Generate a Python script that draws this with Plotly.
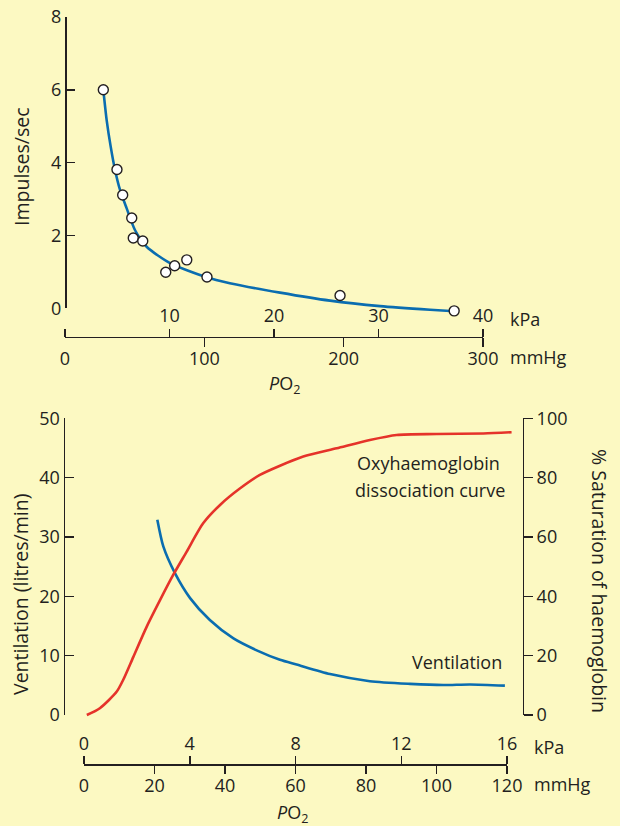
import plotly.graph_objects as go

# ---------------- data ----------------
# Top panel: carotid-body impulses vs PO2 (mmHg)
imp_po2_mmhg = [27.5, 37.3, 41.4, 47.9, 49.0, 55.8, 72.3, 78.7, 87.4, 101.9, 197.4, 279.3]
imp_rate = [6.0, 3.81, 3.11, 2.48, 1.93, 1.85, 0.99, 1.17, 1.33, 0.86, 0.35, -0.07]
fit_po2_mmhg = [27.5, 29.9, 32.8, 35.9, 39.5, 44.2, 50.2, 58.6, 75.4, 101.7,
                118.3, 154.3, 190.2, 226.1, 262.0, 279.3]
fit_rate = [6.0, 5.17, 4.44, 3.80, 3.25, 2.75, 2.15, 1.69, 1.24, 0.85,
            0.69, 0.43, 0.21, 0.06, -0.04, -0.08]

# Bottom panel: oxyhaemoglobin dissociation curve and ventilation vs PO2 (mmHg)
sat_po2_mmhg = [0.8, 4.5, 9.3, 11.1, 14.0, 17.8, 21.6, 25.3, 29.1, 33.8, 38.6, 44.3,
                49.9, 55.6, 62.2, 71.7, 81.1, 88.7, 100.1, 113.3, 121.3]
sat_pct = [0.0, 2.3, 7.9, 11.8, 19.6, 29.8, 38.8, 47.2, 55.0, 64.6, 70.8, 76.4,
           80.9, 84.0, 87.1, 89.9, 92.7, 94.4, 94.7, 94.9, 95.3]
vent_po2_mmhg = [20.8, 22.5, 25.8, 30.1, 35.7, 42.4, 49.0, 55.6, 60.3, 69.8, 81.1,
                 92.5, 101.9, 109.5, 119.4]
vent_lpm = [32.9, 28.4, 23.9, 19.7, 16.0, 12.9, 10.9, 9.3, 8.5, 6.9, 5.7,
            5.25, 5.05, 5.15, 4.95]

# Tick values / labels
top_kpa_ticks = [0, 10, 20, 30, 40]
top_mmhg_ticks = [0, 100, 200, 300]
imp_ticks = [0, 2, 4, 6, 8]
bot_kpa_ticks = [0, 4, 8, 12, 16]
bot_mmhg_ticks = [0, 20, 40, 60, 80, 100, 120]
vent_ticks = [0, 10, 20, 30, 40, 50]
sat_ticks = [0, 20, 40, 60, 80, 100]

MMHG_PER_KPA = 7.50062

# ---------------- styling / layout helpers ----------------
W, H = 620, 826
BG = "#FCF9C2"
INK = "#231F20"
BLUE = "#0A6DB0"
RED = "#E5332A"
FONT = "Open Sans"
TICKFONT = dict(family=FONT, size=18, color=INK)


def px(x):
    return x / W


def py(y):
    return 1 - y / H


# pixel geometry of the panels
T_X0, T_X1 = 65, 483          # top x-axis line (0..300 mmHg)
T_Y0, T_Y8 = 308.3, 17        # top y: 0 and 8
T_XLINE = 336.5
B_X0, B_X1 = 84, 507          # bottom x-axis (0..120 mmHg)
B_Y0, B_YT = 715, 418.3       # bottom y: 0 and top (50 / 100)
B_XLINE = 764
B_YL, B_YR = 63.5, 522.5      # bottom y-axis line positions

top_ppu = (T_Y0 - T_Y8) / 8
bot_ppu = (B_Y0 - B_YT) / 50
bot_ppx = (B_X1 - B_X0) / 120

fig = go.Figure()

# data traces
fig.add_trace(go.Scatter(x=fit_po2_mmhg, y=fit_rate, mode="lines",
                         line=dict(color=BLUE, width=2.6, shape="spline", smoothing=0.7),
                         xaxis="x", yaxis="y3", showlegend=False, hoverinfo="skip"))
fig.add_trace(go.Scatter(x=imp_po2_mmhg, y=imp_rate, mode="markers",
                         marker=dict(size=10, color="white", line=dict(color=INK, width=1.4)),
                         cliponaxis=False,
                         xaxis="x", yaxis="y3", showlegend=False, hoverinfo="skip"))
fig.add_trace(go.Scatter(x=sat_po2_mmhg, y=sat_pct, mode="lines",
                         line=dict(color=RED, width=2.6, shape="spline", smoothing=0.7),
                         xaxis="x5", yaxis="y7", showlegend=False, hoverinfo="skip"))
fig.add_trace(go.Scatter(x=vent_po2_mmhg, y=vent_lpm, mode="lines",
                         line=dict(color=BLUE, width=2.6, shape="spline", smoothing=0.7),
                         xaxis="x5", yaxis="y6", showlegend=False, hoverinfo="skip"))

# empty traces that register the purely visual axes as subplots
for xa, ya in [("x", "y"), ("x2", "y"), ("x3", "y4"), ("x4", "y4"), ("x3", "y5")]:
    fig.add_trace(go.Scatter(x=[], y=[], xaxis=xa, yaxis=ya, showlegend=False, hoverinfo="skip"))

common = dict(showgrid=False, zeroline=False, tickfont=TICKFONT, tickcolor=INK,
              linecolor=INK, linewidth=1.5, tickwidth=1.5, fixedrange=True)
hidden = dict(visible=False, showgrid=False, zeroline=False, fixedrange=True)

top_xdom = [px(T_X0), px(T_X1)]
bot_xdom = [px(B_X0), px(B_X1)]

fig.update_layout(
    width=W, height=H,
    margin=dict(l=0, r=0, t=0, b=0, pad=0, autoexpand=False),
    paper_bgcolor=BG, plot_bgcolor="rgba(0,0,0,0)",
    font=dict(family=FONT, color=INK, size=18),
    # ---- top panel visible axes ----
    xaxis=dict(domain=top_xdom, range=[0, 300], anchor="free", position=py(T_XLINE),
               side="bottom", showline=True, tickmode="array", tickvals=top_mmhg_ticks,
               ticks="", ticklabelstandoff=5,
               minor=dict(tickmode="array", tickvals=top_mmhg_ticks[1:], ticks="outside",
                          ticklen=9, tickwidth=1.5, tickcolor=INK),
               **common),
    xaxis2=dict(overlaying="x", range=[0, 300 / MMHG_PER_KPA], anchor="free",
                position=py(T_XLINE), side="top", showline=False, tickmode="array",
                tickvals=top_kpa_ticks[1:], ticks="outside", ticklen=8, ticklabelstandoff=-1,
                minor=dict(tickmode="array", tickvals=top_kpa_ticks[:1], ticks="outside",
                           ticklen=8, tickwidth=1.5, tickcolor=INK),
                **common),
    yaxis=dict(domain=[py(T_Y0), py(T_Y8)], range=[0, 8], anchor="free", position=px(T_X0),
               showline=True, tickmode="array", tickvals=imp_ticks, ticks="inside", ticklen=8,
               **common),
    # ---- top panel data axis (slightly taller so the curve is not clipped) ----
    yaxis3=dict(domain=[py(T_Y0 + 14), py(T_Y8)], range=[-14 / top_ppu, 8], anchor="x", **hidden),
    # ---- bottom panel visible axes ----
    xaxis3=dict(domain=bot_xdom, range=[0, 120], anchor="free", position=py(B_XLINE),
                side="bottom", showline=True, tickmode="array", tickvals=bot_mmhg_ticks,
                ticks="", ticklabelstandoff=5,
                minor=dict(tickmode="array", tickvals=bot_mmhg_ticks[1:], ticks="outside",
                           ticklen=8, tickwidth=1.5, tickcolor=INK),
                **common),
    xaxis4=dict(overlaying="x3", range=[0, 120 / MMHG_PER_KPA], anchor="free",
                position=py(B_XLINE), side="top", showline=False, tickmode="array",
                tickvals=bot_kpa_ticks, ticks="outside", ticklen=8, ticklabelstandoff=-1,
                **common),
    yaxis4=dict(domain=[py(B_Y0), py(B_YT)], range=[0, 50], anchor="free", position=px(B_YL),
                showline=True, tickmode="array", tickvals=vent_ticks, ticks="inside", ticklen=9,
                **common),
    yaxis5=dict(overlaying="y4", range=[0, 100], anchor="free", position=px(B_YR), side="right",
                showline=True, tickmode="array", tickvals=sat_ticks, ticks="outside", ticklen=9,
                **common),
    # ---- bottom panel data axes (slightly larger so curves are not clipped) ----
    xaxis5=dict(domain=[px(B_X0), px(B_X0 + 127 * bot_ppx)], range=[0, 127], anchor="y6", **hidden),
    yaxis6=dict(domain=[py(B_Y0 + 8), py(B_YT)], range=[-8 / bot_ppu, 50], anchor="x5", **hidden),
    yaxis7=dict(overlaying="y6", range=[-8 / bot_ppu * 2, 100], anchor="x5", **hidden),
)

ann = [
    dict(text="Impulses/sec", x=px(21), y=py(167), textangle=-90, font=dict(size=19.5)),
    dict(text="kPa", x=px(508), y=py(319), xanchor="left"),
    dict(text="mmHg", x=px(508), y=py(357), xanchor="left"),
    dict(text="<i>P</i>O<sub>2</sub>", x=px(284), y=py(384)),
    dict(text="Ventilation (litres/min)", x=px(20), y=py(595), textangle=-90,
         font=dict(size=19.5)),
    dict(text="% Saturation of haemoglobin", x=px(600), y=py(581), textangle=90,
         font=dict(size=19.5)),
    dict(text="Oxyhaemoglobin", x=px(502), y=py(463), xanchor="right"),
    dict(text="dissociation curve", x=px(507), y=py(490), xanchor="right"),
    dict(text="Ventilation", x=px(504), y=py(662), xanchor="right"),
    dict(text="kPa", x=px(532), y=py(747), xanchor="left"),
    dict(text="mmHg", x=px(532), y=py(784), xanchor="left"),
    dict(text="<i>P</i>O<sub>2</sub>", x=px(292), y=py(813)),
]
for a in ann:
    a.setdefault("xanchor", "center")
    a.update(xref="paper", yref="paper", showarrow=False, yanchor="middle")
    f = dict(family=FONT, size=18, color=INK)
    f.update(a.get("font", {}))
    a["font"] = f
fig.update_layout(annotations=ann)

fig.write_html("out.html", config={"displayModeBar": False, "staticPlot": True},
               post_script="document.body.style.margin='0';document.body.style.overflow='hidden';")
